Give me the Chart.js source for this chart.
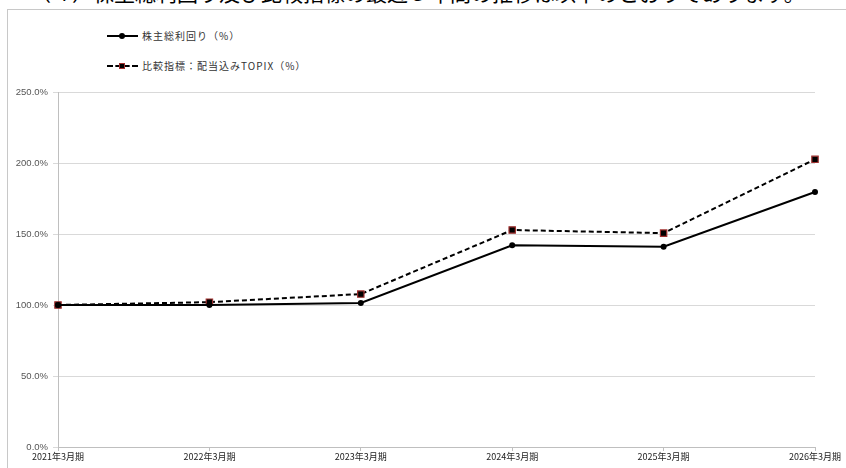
<!DOCTYPE html>
<html>
<head>
<meta charset="utf-8">
<script src="https://cdn.jsdelivr.net/npm/chart.js@4.4.1/dist/chart.umd.min.js"></script>
<style>
  body { margin: 0; width: 846px; height: 468px; overflow: hidden; background: #fff; position: relative; font-family: "Noto Sans CJK JP", sans-serif; }
  .caption { position: absolute; left: 30px; top: -19px; font-size: 21px; line-height: 22px; white-space: nowrap; color: #000; }
  .frame { position: absolute; left: 7px; top: 9px; width: 860px; height: 480px; border: 1px solid #c8c8c8; background: #fff; }
  #wrap { position: absolute; left: 0; top: 0; width: 846px; height: 468px; }
  .legend { position: absolute; left: 107px; font-size: 10px; letter-spacing: 1px; color: #333; display: flex; align-items: center; }
  .swatch { position: relative; width: 31px; height: 8px; margin-right: 4px; }
  .swatch .ln { position: absolute; left: 0; right: 0; top: 3px; border-top: 2px solid #000; }
  .swatch .ln.dash { border-top: 2px dashed #000; }
  .swatch .dot { position: absolute; left: 12px; top: 1px; width: 6px; height: 6px; border-radius: 50%; background: #000; }
  .swatch .sq { position: absolute; left: 12px; top: 1px; width: 4px; height: 4px; background: #000; border: 1px solid #a0302f; }
</style>
</head>
<body>
<div class="caption">（４）株主総利回り及び比較指標の最近５年間の推移は以下のとおりであります。</div>
<div class="frame"></div>
<div class="legend" style="top:28px"><div class="swatch"><div class="ln"></div><div class="dot"></div></div>株主総利回り（%）</div>
<div class="legend" style="top:58px"><div class="swatch"><div class="ln dash"></div><div class="sq"></div></div>比較指標：配当込みTOPIX（%）</div>
<div id="wrap"><canvas id="lineChart"></canvas></div>
<script>
// ---data---
var periods = ["2021年3月期", "2022年3月期", "2023年3月期", "2024年3月期", "2025年3月期", "2026年3月期"];
var tsrValues = [100.0, 100.0, 101.4, 142.0, 141.0, 179.6];
var topixValues = [100.0, 102.0, 107.7, 152.8, 150.6, 202.6];
var seriesNames = ["株主総利回り（%）", "比較指標：配当込みTOPIX（%）"];

// ---chart script---
var ctxL = document.getElementById("lineChart").getContext("2d");
var myLineChart = new Chart(ctxL, {
  type: "line",
  data: {
    labels: periods,
    datasets: [
      {
        label: seriesNames[0],
        data: tsrValues,
        borderColor: "#000",
        backgroundColor: "#000",
        borderWidth: 2,
        pointStyle: "circle",
        pointRadius: 3,
        pointBorderWidth: 0,
        pointBackgroundColor: "#000",
        tension: 0,
      },
      {
        label: seriesNames[1],
        data: topixValues,
        borderColor: "#000",
        backgroundColor: "#000",
        borderWidth: 2,
        borderDash: [5, 3],
        pointStyle: "rect",
        pointRadius: 4.5,
        pointBorderWidth: 1.2,
        pointBackgroundColor: "#000",
        pointBorderColor: "#a0302f",
        tension: 0,
      },
    ],
  },
  options: {
    responsive: true,
    maintainAspectRatio: false,
    animation: false,
    layout: { padding: { top: 92, right: 31, bottom: 0, left: 0 } },
    plugins: { legend: { display: false }, tooltip: { enabled: false } },
    scales: {
      x: {
        offset: false,
        grid: { drawOnChartArea: false, drawTicks: true, tickLength: 4, color: "#bfbfbf" },
        border: { color: "#bfbfbf", width: 1 },
        ticks: { color: "#222", font: { family: "Noto Sans CJK JP", size: 9 }, padding: 0, maxRotation: 0, autoSkip: false },
        afterFit: function (scale) { scale.height = 21; },
      },
      y: {
        min: 0,
        max: 250,
        ticks: {
          stepSize: 50,
          color: "#555",
          padding: 5,
          font: { family: "Liberation Sans", size: 9.5 },
          callback: function (v) { return v.toFixed(1) + "%"; },
        },
        grid: { color: "#d9d9d9", tickLength: 5 },
        border: { color: "#bfbfbf", width: 1 },
        afterFit: function (scale) { scale.width = 58; },
      },
    },
  },
});
</script>
</body>
</html>
